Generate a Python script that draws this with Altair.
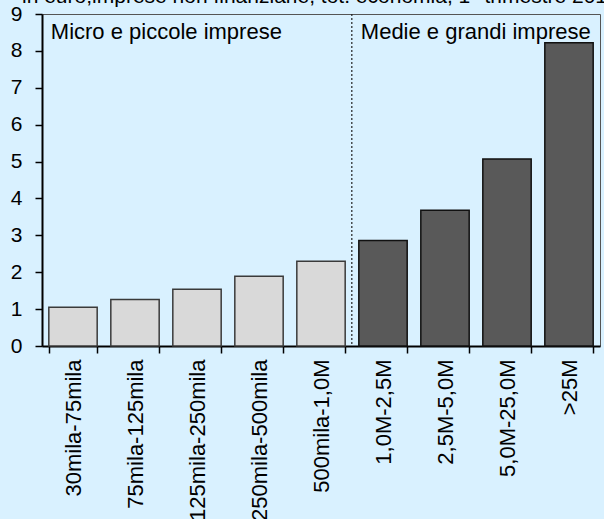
import altair as alt
import pandas as pd

categories = ["30mila-75mila", "75mila-125mila", "125mila-250mila", "250mila-500mila",
              "500mila-1,0M", "1,0M-2,5M", "2,5M-5,0M", "5,0M-25,0M", ">25M"]
values = [1.05, 1.26, 1.54, 1.89, 2.30, 2.86, 3.68, 5.07, 8.22]
groups = ["small"] * 5 + ["large"] * 4
group_labels = ["Micro e piccole imprese", "Medie e grandi imprese"]
group_first = ["30mila-75mila", "1,0M-2,5M"]
y_ticks = [0, 1, 2, 3, 4, 5, 6, 7, 8, 9]
title_text = "in euro;imprese non finanziarie, tot. economia, 1° trimestre 2014"

df = pd.DataFrame({"cat": categories, "val": values, "grp": groups})
FONT = "Liberation Sans"

xscale = alt.Scale(domain=categories, paddingInner=0.22, paddingOuter=0.11)
yscale = alt.Scale(domain=[0, 9], nice=False)
yaxis = alt.Axis(values=y_ticks, labelFontSize=21, labelFont=FONT, labelColor="black",
                 labelPadding=13, tickSize=7, tickColor="black", domainColor="black",
                 domainWidth=2, tickWidth=1.5, grid=False, labelOverlap=False)

bars = alt.Chart(df).mark_bar(strokeWidth=1.5).encode(
    x=alt.X("cat:N", sort=categories, scale=xscale, title=None,
            axis=alt.Axis(labelAngle=-90, labelAlign="right", labelBaseline="middle",
                          labelFontSize=22, labelFont=FONT, labelColor="black",
                          labelPadding=6, tickBand="extent", tickSize=7,
                          tickColor="black", domainColor="black", domainWidth=2,
                          tickWidth=1.5, labelLimit=300, labelOverlap=False)),
    y=alt.Y("val:Q", scale=yscale, title=None, axis=yaxis),
    color=alt.Color("grp:N", scale=alt.Scale(domain=["small", "large"],
                                             range=["#D9D9D9", "#595959"]), legend=None),
    stroke=alt.Stroke("grp:N", scale=alt.Scale(domain=["small", "large"],
                                               range=["#3a3a3a", "#111111"]), legend=None),
)

sep = alt.Chart(pd.DataFrame({"cat": [group_first[1]]})).mark_rule(
    strokeDash=[2, 2], color="#222", strokeWidth=1.2, xOffset=-7
).encode(
    x=alt.X("cat:N", sort=categories, scale=xscale, bandPosition=0),
    y=alt.value(0), y2=alt.value(332),
)

lab = alt.Chart(pd.DataFrame({"cat": group_first, "t": group_labels, "yy": [8.5, 8.5]})).mark_text(
    align="left", baseline="middle", fontSize=22, font=FONT, color="black", dx=2
).encode(
    x=alt.X("cat:N", sort=categories, scale=xscale, bandPosition=0),
    y=alt.Y("yy:Q", scale=yscale, title=None, axis=yaxis),
    text="t:N",
)

ttl = alt.Chart(pd.DataFrame({"t": [title_text]})).mark_text(
    align="left", baseline="alphabetic", fontSize=21, font=FONT, color="black"
).encode(x=alt.value(-20), y=alt.value(-11), text="t:N")

chart = alt.layer(bars, sep, lab, ttl).properties(
    width=558, height=332,
    autosize=alt.AutoSizeParams(type="none"),
    padding={"left": 42, "top": 14, "right": 4, "bottom": 173},
    background="#D9F1FF",
).configure_view(stroke="#555555", strokeWidth=1)

chart.save("out.html", embed_options={"renderer": "svg", "actions": False})
